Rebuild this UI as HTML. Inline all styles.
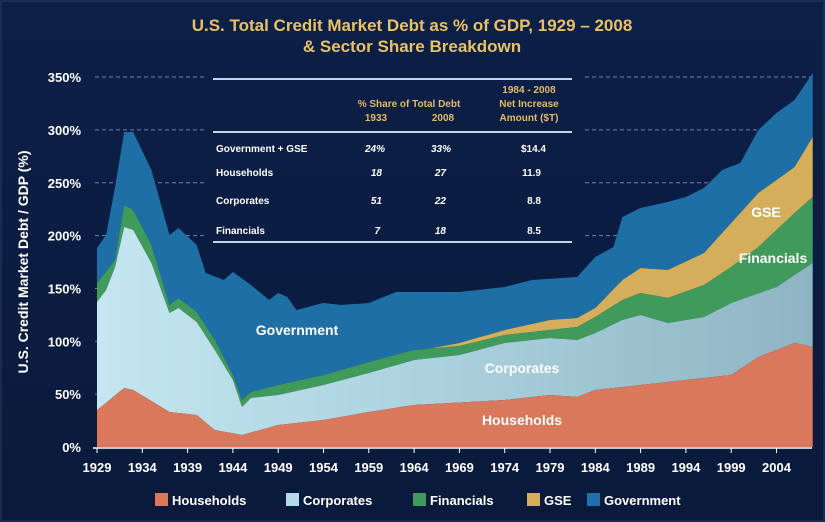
<!DOCTYPE html>
<html><head><meta charset="utf-8"><style>
html,body{margin:0;padding:0;background:#0b1d42;}
svg{display:block;}
text{font-family:"Liberation Sans",Arial,sans-serif;font-weight:bold;}
</style></head><body>
<svg id="s" width="825" height="522" viewBox="0 0 825 522" xmlns="http://www.w3.org/2000/svg">
<defs>
<linearGradient id="bg" x1="0" y1="0" x2="0" y2="1"><stop offset="0" stop-color="#0c1f47"/><stop offset="1" stop-color="#0a1a3c"/></linearGradient>
<linearGradient id="corp" x1="0" y1="0" x2="1" y2="0"><stop offset="0" stop-color="#c4e6f0"/><stop offset="0.5" stop-color="#a9d0dc"/><stop offset="1" stop-color="#8fb4c3"/></linearGradient>
</defs>
<rect x="0" y="0" width="825" height="522" fill="url(#bg)"/>
<rect x="1" y="1" width="823" height="520" fill="none" stroke="#2a3a5e" stroke-width="1"/>
<text x="412" y="31" fill="#e9c164" font-size="17" text-anchor="middle">U.S. Total Credit Market Debt as % of GDP, 1929 – 2008</text>
<text x="412" y="52" fill="#e9c164" font-size="17" text-anchor="middle">&amp; Sector Share Breakdown</text>
<g id="grid" stroke="#6f83a8" stroke-width="1" stroke-dasharray="4,3"></g>
<g id="areas"></g>
<g id="labels" fill="#fff" font-size="13"></g>
<g>
<line x1="213" y1="79" x2="572" y2="79" stroke="#c8d3e6" stroke-width="2"/>
<line x1="213" y1="132" x2="572" y2="132" stroke="#c8d3e6" stroke-width="2"/>
<line x1="213" y1="242" x2="572" y2="242" stroke="#c8d3e6" stroke-width="2"/>
<g fill="#e2bb63" font-size="10" text-anchor="middle">
<text x="409" y="107">% Share of Total Debt</text>
<text x="376" y="121">1933</text><text x="443" y="121">2008</text>
<text x="529" y="93">1984 - 2008</text>
<text x="529" y="107">Net Increase</text>
<text x="529" y="121">Amount ($T)</text>
</g>
<g fill="#fff" font-size="10">
<text x="216" y="152">Government + GSE</text>
<text x="216" y="176">Households</text>
<text x="216" y="204">Corporates</text>
<text x="216" y="234">Financials</text>
</g>
<g fill="#fff" font-size="10" text-anchor="end" font-style="italic">
<text x="385" y="152">24%</text><text x="451" y="152">33%</text>
<text x="382" y="176">18</text><text x="446" y="176">27</text>
<text x="382" y="204">51</text><text x="446" y="204">22</text>
<text x="380" y="234">7</text><text x="446" y="234">18</text>
</g>
<g fill="#fff" font-size="10" text-anchor="end">
<text x="546" y="152">$14.4</text><text x="541" y="176">11.9</text>
<text x="541" y="204">8.8</text><text x="541" y="234">8.5</text>
</g>
</g>
<text transform="translate(28,262) rotate(-90)" fill="#fff" font-size="14" text-anchor="middle">U.S. Credit Market Debt / GDP (%)</text>
<g font-size="13" fill="#fff">
<rect x="155" y="493" width="13" height="13" fill="#d9785a"/><text x="172" y="505">Households</text>
<rect x="286" y="493" width="13" height="13" fill="#b3dbe7"/><text x="303" y="505">Corporates</text>
<rect x="413" y="493" width="13" height="13" fill="#3f9a5c"/><text x="430" y="505">Financials</text>
<rect x="527" y="493" width="13" height="13" fill="#d4ae5a"/><text x="544" y="505">GSE</text>
<rect x="587" y="493" width="13" height="13" fill="#1f70a8"/><text x="604" y="505">Government</text>
</g>
</svg>
<script>
var NS="http://www.w3.org/2000/svg";
function X(y){return 97+(y-1929)*9.06;}
function el(t,a,p,txt){var e=document.createElementNS(NS,t);for(var k in a)e.setAttribute(k,a[k]);if(txt)e.textContent=txt;p.appendChild(e);return e;}
function interp(pts){var out=[];for(var yr=1929;yr<=2008;yr++){var v;if(yr<pts[0][0])v=null;else{for(var i=0;i<pts.length-1;i++){if(yr>=pts[i][0]&&yr<=pts[i+1][0]){var t=(yr-pts[i][0])/(pts[i+1][0]-pts[i][0]);v=pts[i][1]+t*(pts[i+1][1]-pts[i][1]);break;}}if(v===undefined)v=pts[pts.length-1][1];}out.push(v);}return out;}
var base=interp([[1929,447],[2008,447]]);
var hh=interp([[1929,410],[1932,388],[1933,390],[1937,412],[1940,415],[1942,430],[1945,435],[1949,425],[1954,420],[1959,412],[1964,405],[1974,400],[1979,395],[1982,397],[1984,390],[1989,385],[1994,380],[1999,375],[2002,357],[2006,343],[2008,347]]);
var co=interp([[1929,302],[1930,290],[1931,267],[1932,227],[1933,230],[1935,263],[1937,313],[1938,308],[1940,322],[1942,350],[1944,380],[1945,407],[1946,398],[1949,395],[1954,385],[1959,373],[1964,360],[1969,355],[1974,343],[1979,338],[1982,340],[1984,333],[1987,320],[1989,315],[1992,323],[1996,317],[1999,303],[2004,287],[2008,263]]);
var fi=interp([[1929,283],[1931,260],[1932,205],[1933,210],[1935,245],[1937,305],[1938,298],[1940,312],[1942,340],[1944,375],[1945,400],[1946,392],[1949,385],[1954,375],[1959,362],[1964,350],[1969,346],[1974,335],[1979,330],[1982,327],[1984,317],[1987,300],[1989,293],[1992,298],[1996,285],[1999,267],[2002,247],[2006,213],[2008,197]]);
var gs=interp([[1962,355],[1969,343],[1974,330],[1979,320],[1982,318],[1984,308],[1987,280],[1989,268],[1992,270],[1996,253],[1999,223],[2002,193],[2006,167],[2008,137]]);
for(var i=0;i<gs.length;i++){if(gs[i]===null||gs[i]>fi[i])gs[i]=fi[i];}
var go=interp([[1929,248],[1930,235],[1931,187],[1932,132],[1933,132],[1935,170],[1937,235],[1938,228],[1940,245],[1941,273],[1943,280],[1944,272],[1946,285],[1948,300],[1949,293],[1950,297],[1951,310],[1954,303],[1956,305],[1959,303],[1962,292],[1969,292],[1974,287],[1977,280],[1982,277],[1984,257],[1986,247],[1987,217],[1989,208],[1992,202],[1994,197],[1996,188],[1998,170],[2000,163],[2002,130],[2004,113],[2006,100],[2008,73]]);
var g=document.getElementById('grid');
[350,300,250,200,150,100,50].forEach(function(v){var y=447-v*1.057;if(v>=150){el('line',{x1:95,y1:y,x2:205,y2:y},g);el('line',{x1:585,y1:y,x2:810,y2:y},g);}else el('line',{x1:95,y1:y,x2:810,y2:y},g);});
var A=document.getElementById('areas');
function band(top,bot,fill){var d="M";for(var i=0;i<top.length;i++)d+=X(1929+i).toFixed(1)+","+top[i].toFixed(1)+" L";for(var i=bot.length-1;i>=0;i--)d+=X(1929+i).toFixed(1)+","+bot[i].toFixed(1)+(i?" L":" Z");el('path',{d:d,fill:fill},A);}
band(go,gs,"#1f6fa7");band(gs,fi,"#d4ae5a");band(fi,co,"#3f9a5c");band(co,hh,"url(#corp)");band(hh,base,"#d9785a");
el('line',{x1:93,y1:448,x2:812,y2:448,stroke:"#ffffff","stroke-width":1.5},A);
for(var yr=1929;yr<=2008;yr+=5){el('line',{x1:X(yr),y1:448,x2:X(yr),y2:453,stroke:"#fff"},A);}
var L=document.getElementById('labels');
[0,50,100,150,200,250,300,350].forEach(function(v){el('text',{x:81,y:447-v*1.057+5,"text-anchor":"end"},L,v+"%");});
for(var yr=1929;yr<=2004;yr+=5){el('text',{x:X(yr),y:472,"text-anchor":"middle"},L,""+yr);}
el('text',{x:297,y:335,"text-anchor":"middle","font-size":"14"},L,"Government");
el('text',{x:522,y:373,"text-anchor":"middle","font-size":"14"},L,"Corporates");
el('text',{x:522,y:425,"text-anchor":"middle","font-size":"14"},L,"Households");
el('text',{x:766,y:217,"text-anchor":"middle","font-size":"14"},L,"GSE");
el('text',{x:773,y:263,"text-anchor":"middle","font-size":"14"},L,"Financials");
</script>
</body></html>
